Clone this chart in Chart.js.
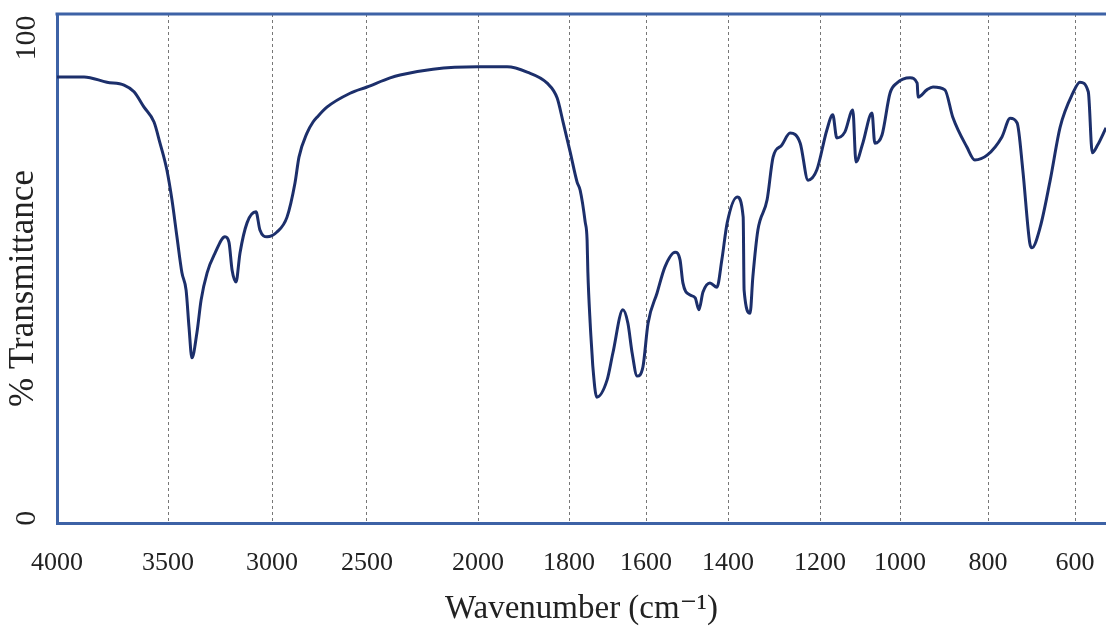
<!DOCTYPE html>
<html lang="en">
<head>
<meta charset="UTF-8">
<title>IR spectrum</title>
<style>
    body { margin: 0; background: #fff; }
    #wrap { width: 1106px; height: 631px; position: relative; }
</style>
</head>
<body>
<div id="wrap">
    <canvas id="irChart"></canvas>
</div>

<script src="https://cdn.jsdelivr.net/npm/chart.js"></script>
<script>
// wavenumbers (cm-1), high to low
const wavenumbers = [
    4000, 3878, 3775, 3698, 3653, 3608, 3563, 3536, 3505, 3481,
    3457, 3433, 3413, 3399, 3385, 3361, 3341, 3312, 3274, 3226,
    3207, 3192, 3173, 3154, 3120, 3077, 3058, 3024, 2974, 2921,
    2879, 2858, 2816, 2784, 2763, 2711, 2589, 2500, 2396, 2351,
    2203, 2000, 1936, 1892, 1848, 1826, 1813, 1797, 1779, 1771,
    1758, 1753, 1751, 1745, 1740, 1738, 1728, 1701, 1686, 1660,
    1647, 1636, 1623, 1608, 1595, 1573, 1554, 1529, 1517, 1510,
    1493, 1480, 1471, 1461, 1444, 1427, 1415, 1402, 1380, 1367,
    1365, 1352, 1346, 1335, 1315, 1302, 1283, 1265, 1243, 1226,
    1207, 1183, 1168, 1158, 1138, 1118, 1110, 1093, 1070, 1063,
    1045, 1025, 1008, 977, 961, 959, 939, 925, 898, 880,
    848, 830, 802, 768, 749, 733, 720, 704, 699, 680,
    657, 634, 605, 589, 570, 561, 549, 530
];

// % transmittance at each wavenumber
const transmittance = [
    91.9, 91.9, 90.8, 90.2, 88.8, 85.6, 82.5, 78.1, 72.5, 66.3,
    58.6, 51.1, 47.5, 39.8, 33.4, 38.6, 45.4, 51.1, 55.2, 58.6,
    57.5, 51.7, 49.2, 55.2, 61.5, 63.8, 60.0, 58.6, 59.6, 62.7,
    69.8, 75.2, 80.2, 82.5, 83.5, 85.6, 88.5, 89.8, 91.7, 92.3,
    93.5, 94.0, 94.0, 92.9, 90.6, 87.5, 82.5, 76.3, 70.0, 68.3,
    61.7, 57.9, 51.3, 40.6, 34.0, 31.5, 25.2, 28.8, 34.4, 43.4,
    40.6, 34.4, 29.6, 31.5, 40.6, 46.9, 52.3, 55.4, 53.8, 49.0,
    46.5, 45.9, 43.4, 47.1, 49.0, 48.1, 53.8, 61.5, 66.9, 62.7,
    47.5, 42.7, 50.2, 60.0, 66.3, 75.2, 77.7, 80.2, 78.1, 70.4,
    72.5, 80.8, 84.0, 79.2, 80.4, 85.0, 74.2, 78.1, 84.4, 78.1,
    79.8, 88.5, 90.6, 91.7, 90.6, 87.7, 89.2, 89.8, 89.2, 83.5,
    77.3, 74.6, 75.6, 79.4, 83.3, 82.3, 72.5, 57.3, 56.3, 60.6,
    70.4, 81.5, 88.5, 90.8, 88.8, 76.1, 77.7, 81.3
];

const xTicks = [4000, 3500, 3000, 2500, 2000, 1800, 1600, 1400, 1200, 1000, 800, 600];
const yTicks = [0, 100];

// the printed axis is not linear: each tick interval has its own width
const axisStops = [4000, 3500, 3000, 2500, 2000, 1800, 1600, 1400, 1200, 1000, 800, 600, 530];
const axisSpans = [111, 104, 95, 111, 91, 77, 82, 92, 80, 88, 87, 31];

const blue = '#3d62a6';
const ink = '#1c2f6b';
const serif = "'Liberation Serif', 'DejaVu Serif', serif";

class WaveScale extends Chart.LinearScale {
    _decimalFor(value) {
        const total = axisSpans.reduce((a, b) => a + b, 0);
        let acc = 0;
        for (let i = 0; i < axisSpans.length; i++) {
            const hi = axisStops[i], lo = axisStops[i + 1];
            if (value <= hi && value >= lo || i === axisSpans.length - 1) {
                return (acc + (hi - value) / (hi - lo) * axisSpans[i]) / total;
            }
            acc += axisSpans[i];
        }
        return 0;
    }
    getPixelForValue(value) {
        if (value === null || value === undefined) return NaN;
        return this.getPixelForDecimal(this._decimalFor(value));
    }
    getValueForPixel(pixel) {
        const total = axisSpans.reduce((a, b) => a + b, 0);
        let d = this.getDecimalForPixel(pixel) * total;
        for (let i = 0; i < axisSpans.length; i++) {
            if (d <= axisSpans[i] || i === axisSpans.length - 1) {
                return axisStops[i] - d / axisSpans[i] * (axisStops[i] - axisStops[i + 1]);
            }
            d -= axisSpans[i];
        }
        return axisStops[0];
    }
}
WaveScale.id = 'wavenumber';
WaveScale.defaults = Chart.LinearScale.defaults;
Chart.register(WaveScale);

// top line of the frame plus the rotated y labels, which sit in the same column
const framePlugin = {
    id: 'frame',
    afterDraw(chart) {
        const ctx = chart.ctx;
        const area = chart.chartArea;
        const y = chart.scales.y;
        ctx.save();
        ctx.strokeStyle = blue;
        ctx.lineWidth = 3;
        ctx.beginPath();
        ctx.moveTo(area.left - 1.5, area.top);
        ctx.lineTo(area.right, area.top);
        ctx.stroke();

        ctx.fillStyle = '#222';
        ctx.textAlign = 'center';
        ctx.textBaseline = 'middle';
        ctx.font = '30px ' + serif;
        y.ticks.forEach(t => {
            ctx.save();
            ctx.translate(27, y.getPixelForValue(t.value));
            ctx.rotate(-Math.PI / 2);
            ctx.fillText(String(t.value), 0, 0);
            ctx.restore();
        });

        ctx.font = '35px ' + serif;
        ctx.translate(24, (area.top + area.bottom) / 2 + 20);
        ctx.rotate(-Math.PI / 2);
        ctx.fillText('% Transmittance', 0, 0);
        ctx.restore();
    }
};

const points = wavenumbers.map((w, i) => ({ x: w, y: transmittance[i] }));

new Chart(document.getElementById('irChart'), {
    type: 'line',
    data: {
        datasets: [{
            data: points,
            borderColor: ink,
            borderWidth: 3,
            pointRadius: 0,
            fill: false,
            cubicInterpolationMode: 'monotone'
        }]
    },
    options: {
        responsive: true,
        maintainAspectRatio: false,
        animation: false,
        events: [],
        layout: { padding: { top: 14, right: 0, left: 0, bottom: 0 } },
        plugins: {
            legend: { display: false },
            tooltip: { enabled: false }
        },
        scales: {
            x: {
                type: 'wavenumber',
                min: 530,
                max: 4000,
                afterBuildTicks: s => { s.ticks = xTicks.map(v => ({ value: v })); },
                afterFit: s => { s.height = 108; s.paddingLeft = 0; s.paddingRight = 0; },
                border: { display: true, color: blue, width: 3, dash: [3, 3] },
                grid: {
                    drawTicks: false,
                    color: '#777',
                    lineWidth: 1
                },
                ticks: {
                    autoSkip: false,
                    maxRotation: 0,
                    padding: 25,
                    color: '#222',
                    font: { family: serif, size: 26 },
                    callback: v => String(v)
                },
                title: {
                    display: true,
                    text: 'Wavenumber (cm\u207B\u00B9)',
                    color: '#222',
                    font: { family: serif, size: 33 },
                    padding: { top: 0, bottom: 2 }
                }
            },
            y: {
                min: -1,
                max: 105,
                afterBuildTicks: s => { s.ticks = yTicks.map(v => ({ value: v })); },
                afterFit: s => { s.width = 57; },
                border: { display: true, color: blue, width: 3 },
                grid: { display: false },
                ticks: { display: false }
            }
        }
    },
    plugins: [framePlugin]
});
</script>
</body>
</html>
